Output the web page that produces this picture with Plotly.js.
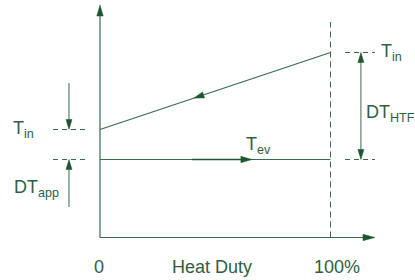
<!DOCTYPE html>
<html>
<head>
<meta charset="utf-8">
<script src="https://cdn.plot.ly/plotly-3.0.1.min.js"></script>
<style>html,body{margin:0;padding:0;background:#fff;}#chart{width:415px;height:280px;}</style>
</head>
<body>
<div id="chart"></div>
<script>
// ---- data (schematic units) ----
const duty = [0, 100];              // heat duty, %
const htfTemp = [25, 63.5];         // HTF outlet -> inlet temperature
const evapTemp = [10, 10];          // evaporation temperature
const xTickLabels = ['0', '100%'];
const xTitle = 'Heat Duty';
const labelTin = 'T<sub>in</sub>';
const labelDTapp = 'DT<sub>app</sub>';
const labelDTHTF = 'DT<sub>HTF</sub>';
const labelTev = 'T<sub>ev</sub>';

// ---- style ----
const lineColor = '#3a6c4b';
const headColor = '#1f5632';
const textColor = '#2f6040';
const font = {family: '"Liberation Sans", Arial, sans-serif', size: 18, color: textColor};

// pixel scale helpers (plot spans the whole figure)
const W = 415, H = 280;
const xRange = [-43.38, 136.66];
const yRange = [-50.25, 89.75];
const kx = W / (xRange[1] - xRange[0]);
const ky = H / (yRange[1] - yRange[0]);

function head(x, y, ang, L, hw) {
  const c = Math.cos(ang * Math.PI / 180), s = Math.sin(ang * Math.PI / 180);
  const bx = -L * c, by = -L * s;
  const p1 = [(bx - hw * s).toFixed(2), (by + hw * c).toFixed(2)];
  const p2 = [(bx + hw * s).toFixed(2), (by - hw * c).toFixed(2)];
  return {type: 'path', xref: 'x', yref: 'y', xsizemode: 'pixel', ysizemode: 'pixel',
    xanchor: x, yanchor: y, path: `M0,0 L${p1[0]},${p1[1]} L${p2[0]},${p2[1]} Z`,
    fillcolor: headColor, line: {color: headColor, width: 0.5}};
}
function seg(x0, y0, x1, y1, opts) {
  return Object.assign({type: 'line', xref: 'x', yref: 'y', x0, y0, x1, y1,
    line: {color: lineColor, width: 1}}, opts || {});
}

const axisBase = evapTemp[0] - 39;   // x-axis level
const yAxisTop = 87.25;
const xAxisEnd = 119.3;
const leftX = -13.45, rightX = 113.2;
const lDash0 = -20.4, lDash1 = -6.5, rDash0 = 106.3, rDash1 = 119.3;
const dashSmall = '5px,4px';

const tIn = htfTemp[1], tOut = htfTemp[0], tEv = evapTemp[0];

// direction of HTF line (pointing from inlet to outlet) in screen px, y-up
const htfAng = Math.atan2((htfTemp[0] - htfTemp[1]) * ky, (duty[0] - duty[1]) * kx) * 180 / Math.PI;
const fr = 0.408;
const arrX = duty[0] + fr * (duty[1] - duty[0]);
const arrY = htfTemp[0] + fr * (htfTemp[1] - htfTemp[0]);

const shapes = [
  // axes
  seg(0, axisBase, 0, yAxisTop - 10 / ky, {line: {color: lineColor, width: 1.2}}),
  seg(0, axisBase, xAxisEnd - 10 / kx, axisBase, {line: {color: lineColor, width: 1.2}}),
  head(0, yAxisTop, 90, 11, 3.2),
  head(xAxisEnd, axisBase, 0, 12, 3.2),
  // 100% dashed
  seg(duty[1], axisBase, duty[1], 78.75, {line: {color: lineColor, width: 1, dash: '6px,4px'}}),
  // left dashes
  seg(lDash0, tOut, lDash1, tOut, {line: {color: lineColor, width: 1, dash: dashSmall}}),
  seg(lDash0, tEv, lDash1, tEv, {line: {color: lineColor, width: 1, dash: dashSmall}}),
  // left arrows
  seg(leftX, 48.25, leftX, tOut + 8 / ky),
  head(leftX, tOut, 270, 10, 3),
  seg(leftX, -13.75, leftX, tEv - 8 / ky),
  head(leftX, tEv, 90, 10, 3),
  // right dashes
  seg(rDash0, tIn, rDash1, tIn, {line: {color: lineColor, width: 1, dash: dashSmall}}),
  seg(rDash0, tEv, rDash1, tEv, {line: {color: lineColor, width: 1, dash: dashSmall}}),
  // right double arrow
  seg(rightX, tIn - 8 / ky, rightX, tEv + 8 / ky),
  head(rightX, tIn, 90, 10, 3),
  head(rightX, tEv, 270, 10, 3),
  // arrow on HTF line
  head(arrX, arrY, htfAng, 10, 3.2),
  // arrow on evaporator line
  seg(39.9, tEv, 62, tEv, {line: {color: headColor, width: 1.6}}),
  head(65.9, tEv, 0, 11, 3.2)
];

const ann = (x, y, text, xanchor) => ({x, y, xref: 'x', yref: 'y', text, showarrow: false,
  xanchor: xanchor || 'center', yanchor: 'middle', font});

const annotations = [
  ann(duty[0] - 0.4, -43.75, xTickLabels[0]),
  ann(48.4, -43.75, xTitle),
  ann(103.0, -43.75, xTickLabels[1]),
  ann(-38.5, 25.0, labelTin, 'left'),
  ann(-38.2, -4.5, labelDTapp, 'left'),
  ann(121.0, 63.5, labelTin, 'left'),
  ann(114.6, 32.8, labelDTHTF, 'left'),
  ann(62.6, 17.2, labelTev, 'left')
];

const traces = [
  {x: duty, y: htfTemp, mode: 'lines', line: {color: lineColor, width: 1.2}, hoverinfo: 'skip'},
  {x: duty, y: evapTemp, mode: 'lines', line: {color: lineColor, width: 1.2}, hoverinfo: 'skip'}
];

const layout = {
  width: W, height: H, margin: {l: 0, r: 0, t: 0, b: 0, pad: 0},
  paper_bgcolor: '#fff', plot_bgcolor: '#fff', showlegend: false,
  xaxis: {range: xRange, visible: false, fixedrange: true},
  yaxis: {range: yRange, visible: false, fixedrange: true},
  shapes, annotations
};

Plotly.newPlot('chart', traces, layout, {staticPlot: true, displayModeBar: false});
</script>
</body>
</html>
